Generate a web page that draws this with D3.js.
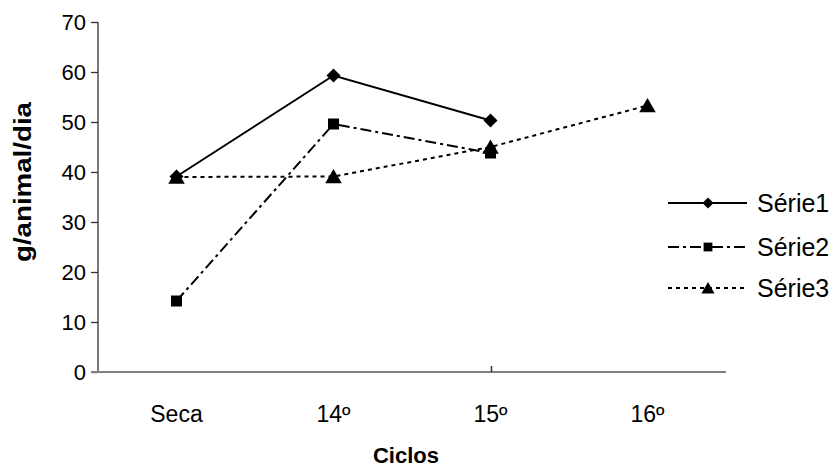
<!DOCTYPE html>
<html>
<head>
<meta charset="utf-8">
<script src="https://cdn.jsdelivr.net/npm/d3@7/dist/d3.min.js"></script>
<style>
  html, body { margin: 0; padding: 0; background: #fff; }
  svg { display: block; font-family: Arial, "Liberation Sans", sans-serif; }
</style>
</head>
<body>
<svg id="chart" width="838" height="468"></svg>
<script>
// Cycles on the category axis
const categories = ["Seca", "14º", "15º", "16º"];
// g/animal/dia per cycle
const serie1 = [39.1, 59.3, 50.3];
const serie2 = [14.2, 49.6, 43.8];
const serie3 = [39.0, 39.1, 45.0, 53.3];
const seriesNames = ["Série1", "Série2", "Série3"];
const yTicks = [0, 10, 20, 30, 40, 50, 60, 70];

const FONT = "Arial, 'Liberation Sans', sans-serif";
const svg = d3.select("#chart");
const plot = { left: 98, right: 726, top: 22, bottom: 372 };

const x = d3.scaleBand().domain(categories).range([plot.left, plot.right]);
const y = d3.scaleLinear().domain([0, 70]).range([plot.bottom, plot.top]);
const cx = c => x(c) + x.bandwidth() / 2;

// Marker shapes (r = half extent in px)
const diamond = r => `M0,${-r}L${r},0L0,${r}L${-r},0Z`;
const square = r => `M${-r},${-r}H${r}V${r}H${-r}Z`;
const triangle = r => `M0,${-r}L${r * 1.1},${r * 0.9}H${-r * 1.1}Z`;

const series = [
  { name: seriesNames[0], values: serie1, dash: null, shape: diamond, r: 7 },
  { name: seriesNames[1], values: serie2, dash: "11,4,3,4", shape: square, r: 5.5 },
  { name: seriesNames[2], values: serie3, dash: "4,4", shape: triangle, r: 7.5 }
];

// Y axis
const yAxis = d3.axisLeft(y).tickValues(yTicks).tickSize(7).tickPadding(5);
const gy = svg.append("g").attr("transform", `translate(${plot.left},0)`).call(yAxis);
gy.select(".domain").attr("stroke", "#333").attr("stroke-width", 1.3)
  .attr("d", `M0,${plot.top}V${plot.bottom}`);
gy.selectAll(".tick line").attr("stroke", "#333").attr("stroke-width", 1.3);
gy.selectAll(".tick text").attr("font-size", 22).attr("fill", "#000")
  .attr("font-family", FONT);

// X axis
const xAxis = d3.axisBottom(x).tickSize(0).tickPadding(34);
const gx = svg.append("g").attr("transform", `translate(0,${plot.bottom})`).call(xAxis);
gx.select(".domain").attr("stroke", "#808080").attr("stroke-width", 2.2)
  .attr("d", `M${plot.left - 7},0H${plot.right}`);
gx.selectAll(".tick text").attr("font-size", 23).attr("fill", "#000")
  .attr("font-family", FONT);
// single visible tick mark
gx.append("line").attr("x1", cx("15º") + 1).attr("x2", cx("15º") + 1)
  .attr("y1", 0).attr("y2", -6).attr("stroke", "#333").attr("stroke-width", 1.5);

// Axis titles
svg.append("text").attr("x", 406).attr("y", 463)
  .attr("text-anchor", "middle").attr("font-size", 22).attr("font-weight", "bold")
  .text("Ciclos");
svg.append("text").attr("transform", "translate(31,182) rotate(-90)")
  .attr("text-anchor", "middle").attr("font-size", 23).attr("font-weight", "bold")
  .attr("textLength", 160).attr("lengthAdjust", "spacingAndGlyphs")
  .text("g/animal/dia");

// Lines and markers
const line = d3.line().x((d, i) => cx(categories[i])).y(d => y(d));
series.forEach(s => {
  svg.append("path").datum(s.values).attr("d", line)
    .attr("fill", "none").attr("stroke", "#000").attr("stroke-width", 2)
    .attr("stroke-dasharray", s.dash);
  svg.append("g").selectAll("path").data(s.values).join("path")
    .attr("d", s.shape(s.r))
    .attr("transform", (d, i) => `translate(${cx(categories[i])},${y(d)})`)
    .attr("fill", "#000");
});

// Legend
const legendY = [203, 247, 288];
series.forEach((s, i) => {
  const g = svg.append("g").attr("transform", `translate(0,${legendY[i]})`);
  g.append("line").attr("x1", 668).attr("x2", 747).attr("y1", 0).attr("y2", 0)
    .attr("stroke", "#000").attr("stroke-width", 2).attr("stroke-dasharray", s.dash);
  g.append("path").attr("d", s.shape(s.r * 0.8))
    .attr("transform", "translate(708,0)").attr("fill", "#000");
  g.append("text").attr("x", 757).attr("y", 9).attr("font-size", 25)
    .attr("font-family", FONT).text(s.name);
});
</script>
</body>
</html>
